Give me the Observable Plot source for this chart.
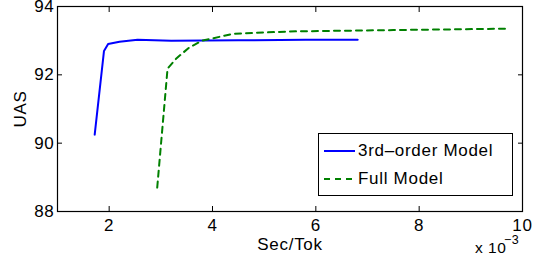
<!DOCTYPE html>
<html>
<head>
<meta charset="utf-8">
<script src="https://cdn.jsdelivr.net/npm/d3@7"></script>
<script src="https://cdn.jsdelivr.net/npm/@observablehq/plot@0.6"></script>
<style>
  html, body { margin: 0; padding: 0; background: white; }
  #wrap { position: relative; width: 537px; height: 259px; font-family: "Liberation Sans", Arial, Helvetica, sans-serif; }
  #chart svg { overflow: visible; letter-spacing: 0.7px; }
  #legend { position: absolute; left: 318px; top: 133px; width: 193px; height: 61px; border: 1px solid black; background: white; font-size: 17px; letter-spacing: 0.7px; }
  .row { position: absolute; left: 5px; height: 20px; display: flex; align-items: center; }
  .row svg { margin-right: 3px; }
  .exp { position: absolute; line-height: 1; white-space: nowrap; letter-spacing: 0.5px; }
</style>
</head>
<body>
<div id="wrap">
  <div id="chart"></div>
  <div id="legend"></div>
  <div class="exp" style="left:475px; top:240px; font-size:15.5px;">x 10</div>
  <div class="exp" style="left:504px; top:234px; font-size:12.5px;">−3</div>
</div>
<script>
// Sec/Tok (x 10^-3) and UAS values
const thirdX = [1.72, 1.90, 1.98, 2.20, 2.55, 3.20, 4.50, 5.80, 6.81];
const thirdY = [90.25, 92.70, 92.90, 92.97, 93.03, 93.00, 93.01, 93.03, 93.03];
const fullX = [2.93, 3.13, 3.30, 3.55, 3.80, 4.40, 5.50, 7.50, 9.67];
const fullY = [88.70, 92.18, 92.48, 92.80, 93.00, 93.20, 93.27, 93.31, 93.35];
const xTicks = [2, 4, 6, 8, 10];
const yTicks = [88, 90, 92, 94];
const seriesNames = ["3rd\u2013order Model", "Full Model"];
const seriesColors = ["#0000ff", "#008000"];

const third = thirdX.map((x, i) => ({x, y: thirdY[i]}));
const full = fullX.map((x, i) => ({x, y: fullY[i]}));
const fs = 17;

const chart = Plot.plot({
  width: 537,
  height: 259,
  marginLeft: 57,
  marginRight: 15,
  marginTop: 6,
  marginBottom: 48,
  style: { fontFamily: '"Liberation Sans", Arial, Helvetica, sans-serif', fontSize: "17px", background: "white", color: "black", overflow: "visible" },
  x: { domain: [1, 10] },
  y: { domain: [88, 94] },
  marks: [
    Plot.line(third, { x: "x", y: "y", stroke: seriesColors[0], strokeWidth: 2 }),
    Plot.line(full, { x: "x", y: "y", stroke: seriesColors[1], strokeWidth: 2, strokeDasharray: "6,5" }),
    Plot.axisX(xTicks, { anchor: "bottom", tickSize: 0, tickPadding: 7, fontSize: fs, label: "Sec/Tok", labelAnchor: "center", labelArrow: "none", labelOffset: 38 }),
    Plot.axisX(xTicks, { anchor: "bottom", tickSize: -5, tickFormat: () => "", label: null }),
    Plot.axisX(xTicks, { anchor: "top", tickSize: -5, tickFormat: () => "", label: null }),
    Plot.axisY(yTicks, { anchor: "left", tickSize: 0, tickPadding: 3, fontSize: fs, label: "UAS", labelAnchor: "center", labelArrow: "none", labelOffset: 44 }),
    Plot.axisY(yTicks, { anchor: "left", tickSize: -5, tickFormat: () => "", label: null }),
    Plot.axisY(yTicks, { anchor: "right", tickSize: -5, tickFormat: () => "", label: null }),
    Plot.frame({ stroke: "black", strokeWidth: 1.2 })
  ]
});
document.getElementById("chart").appendChild(chart);

const legend = document.getElementById("legend");
seriesNames.forEach((name, i) => {
  const row = document.createElement("div");
  row.className = "row";
  row.style.top = (7 + i * 28) + "px";
  row.innerHTML = `<svg width="31" height="6"><line x1="0" y1="3" x2="31" y2="3" stroke="${seriesColors[i]}" stroke-width="2" ${i === 1 ? 'stroke-dasharray="6,5"' : ''}/></svg><span>${name}</span>`;
  legend.appendChild(row);
});
</script>
</body>
</html>
